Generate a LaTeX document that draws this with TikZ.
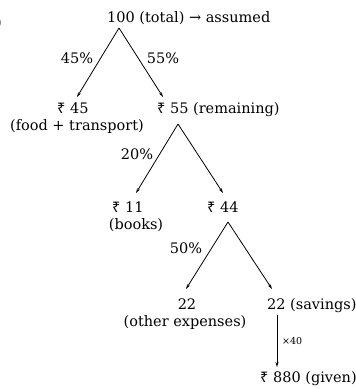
\documentclass[tikz,border=0pt]{standalone}
\usepackage{fontspec}
\setmainfont{DejaVu Serif}
\newfontfamily\rupeefont{Noto Sans}
\newcommand{\rupee}{{\rupeefont ₹}}
\usetikzlibrary{arrows.meta}

\begin{document}
\begin{tikzpicture}[x=1pt, y=-1pt,
    lbl/.style={font=\fontsize{14.5}{16}\selectfont, inner sep=0pt},
    small/.style={font=\fontsize{9.5}{10}\selectfont, inner sep=0pt},
    arr/.style={-{Stealth[length=5pt, width=3pt]}, line width=0.8pt}]
  \useasboundingbox (0,0) rectangle (356,389);

  % cut-off bracket at the left edge
  \node[lbl, anchor=base east] (cut) at (2,27) {)};

  % level 1
  \node[lbl, anchor=base west] (total) at (107,22.5) {100 (total) → assumed};
  \coordinate (a1) at (119,28);
  \coordinate (e45) at (77,97);
  \coordinate (e55) at (163,97);
  \draw[arr] (a1) -- (e45);
  \draw[arr] (a1) -- (e55);
  \node[lbl, anchor=base] (p45) at (77,63) {45\%};
  \node[lbl, anchor=base] (p55) at (163,63) {55\%};

  \node[lbl, anchor=base west] (r45) at (57,113) {\rupee\ 45};
  \node[lbl, anchor=base] (food) at (77,130) {(food + transport)};
  \node[lbl, anchor=base west] (r55) at (157,113) {\rupee\ 55 (remaining)};

  % level 2
  \coordinate (a2) at (178,124);
  \coordinate (e11) at (136,193);
  \coordinate (e44) at (223,193);
  \draw[arr] (a2) -- (e11);
  \draw[arr] (a2) -- (e44);
  \node[lbl, anchor=base] (p20) at (137,159) {20\%};

  \node[lbl, anchor=base west] (r11) at (112,212) {\rupee\ 11};
  \node[lbl, anchor=base] (books) at (136,229) {(books)};
  \node[lbl, anchor=base west] (r44) at (207,212) {\rupee\ 44};

  % level 3
  \coordinate (a3) at (228,222);
  \coordinate (e22a) at (186,289);
  \coordinate (e22b) at (272,289);
  \draw[arr] (a3) -- (e22a);
  \draw[arr] (a3) -- (e22b);
  \node[lbl, anchor=base] (p50) at (186,253) {50\%};

  \node[lbl, anchor=base] (other) at (187,309) {22};
  \node[lbl, anchor=base] (otherx) at (185,326) {(other expenses)};
  \node[lbl, anchor=base west] (sav) at (267,309) {22 (savings)};

  % savings to given
  \coordinate (s1) at (277,315);
  \coordinate (s2) at (277,367);
  \draw[arr] (s1) -- (s2);
  \node[small, anchor=base west] (times) at (282,344) {×40};
  \node[lbl, anchor=base west] (given) at (260,382) {\rupee\ 880 (given)};
\end{tikzpicture}
\end{document}
